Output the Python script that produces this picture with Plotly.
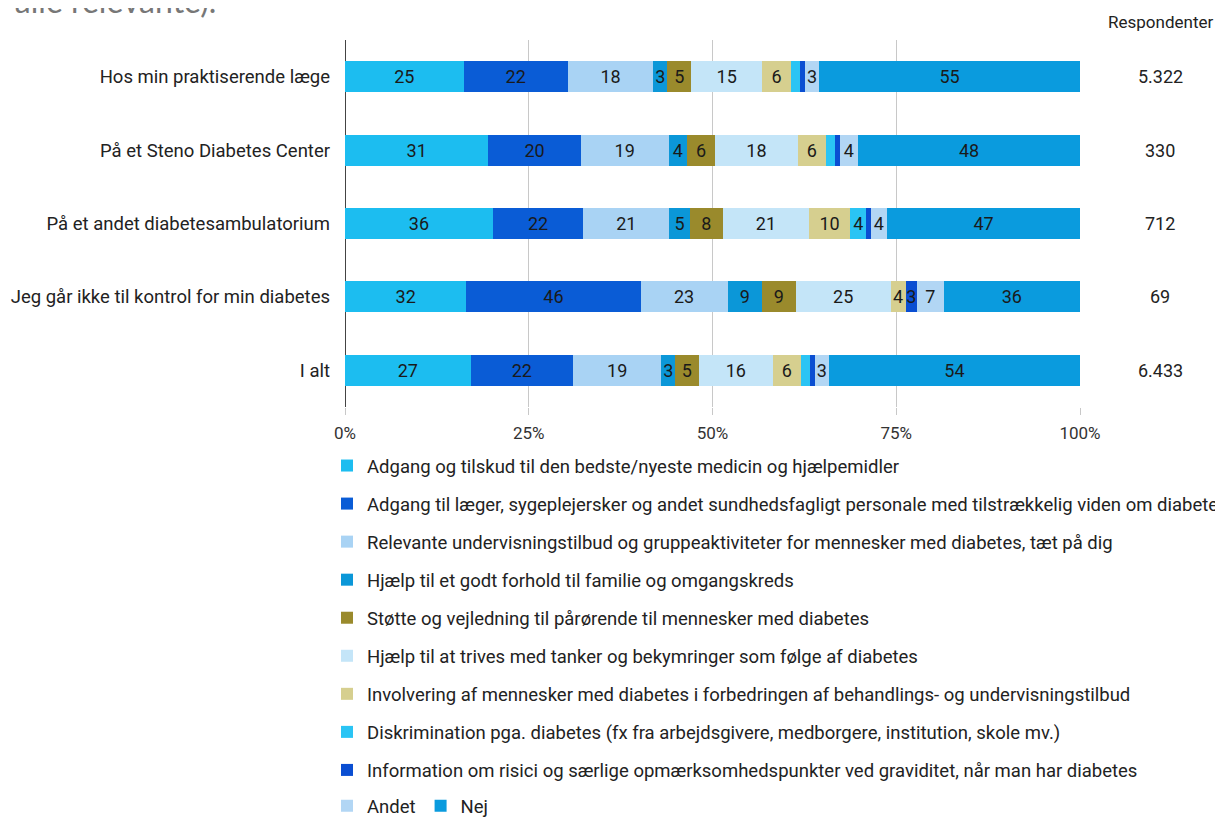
import plotly.graph_objects as go

categories = ["Hos min praktiserende læge", "På et Steno Diabetes Center",
              "På et andet diabetesambulatorium", "Jeg går ikke til kontrol for min diabetes", "I alt"]
respondents = ["5.322", "330", "712", "69", "6.433"]

series_names = [
    "Adgang og tilskud til den bedste/nyeste medicin og hjælpemidler",
    "Adgang til læger, sygeplejersker og andet sundhedsfagligt personale med tilstrækkelig viden om diabetes",
    "Relevante undervisningstilbud og gruppeaktiviteter for mennesker med diabetes, tæt på dig",
    "Hjælp til et godt forhold til familie og omgangskreds",
    "Støtte og vejledning til pårørende til mennesker med diabetes",
    "Hjælp til at trives med tanker og bekymringer som følge af diabetes",
    "Involvering af mennesker med diabetes i forbedringen af behandlings- og undervisningstilbud",
    "Diskrimination pga. diabetes (fx fra arbejdsgivere, medborgere, institution, skole mv.)",
    "Information om risici og særlige opmærksomhedspunkter ved graviditet, når man har diabetes",
    "Andet",
    "Nej",
]
medicin = [25, 31, 36, 32, 27]
laeger = [22, 20, 22, 46, 22]
undervisning = [18, 19, 21, 23, 19]
familie = [3, 4, 5, 9, 3]
paaroerende = [5, 6, 8, 9, 5]
trives = [15, 18, 21, 25, 16]
involvering = [6, 6, 10, 4, 6]
diskrimination = [2, 2, 4, 0, 2]
graviditet = [1, 1, 1, 3, 1]
andet = [3, 4, 4, 7, 3]
nej = [55, 48, 47, 36, 54]
series_values = [medicin, laeger, undervisning, familie, paaroerende, trives,
                 involvering, diskrimination, graviditet, andet, nej]
colors = ["#1CBDF0", "#0A5CD6", "#A9D3F4", "#0B97D8", "#9A8A2C", "#C4E5F8",
          "#D6CF8F", "#2AC4F4", "#0A4ED2", "#B2D6F4", "#0A9BDE"]

tick_vals = [0, 25, 50, 75, 100]
tick_text = ["0%", "25%", "50%", "75%", "100%"]

FONT = "Roboto"
fig = go.Figure()
for i, (name, vals, col) in enumerate(zip(series_names, series_values, colors)):
    fig.add_trace(go.Bar(
        y=categories, x=vals, name=name, orientation="h",
        marker=dict(color=col, line=dict(width=0)),
        text=[str(v) if v >= 3 else "" for v in vals],
        textposition="inside", insidetextanchor="middle", textangle=0,
        insidetextfont=dict(family=FONT, size=18, color="#1a1a1a"),
        legend="legend2" if i >= 9 else "legend",
        legendgroup=f"g{i}",
        hoverinfo="x+y+name",
    ))

fig.update_layout(
    width=1223, height=817,
    barmode="stack", barnorm="percent", bargap=0.58,
    paper_bgcolor="white", plot_bgcolor="white",
    margin=dict(l=337, r=151, t=32, b=418, autoexpand=False),
    font=dict(family=FONT, size=18, color="#222"),
    uniformtext=dict(mode="show", minsize=18),
    showlegend=True,
    legend=dict(orientation="v", x=-0.0245, xanchor="left", y=-0.109, yanchor="top",
                traceorder="grouped", tracegroupgap=11,
                font=dict(family=FONT, size=18.5, color="#222"),
                bgcolor="rgba(0,0,0,0)"),
    legend2=dict(orientation="h", x=-0.0245, xanchor="left", y=-1.036, yanchor="top",
                 font=dict(family=FONT, size=18.5, color="#222"),
                 bgcolor="rgba(0,0,0,0)"),
    xaxis=dict(range=[0, 100], tickvals=tick_vals, ticktext=tick_text,
               showgrid=True, gridcolor="#c8c8c8", gridwidth=1,
               zeroline=True, zerolinecolor="#444", zerolinewidth=1,
               ticks="outside", ticklen=7, tickcolor="#c8c8c8", ticklabelstandoff=4,
               tickfont=dict(family=FONT, size=17, color="#333")),
    yaxis=dict(autorange="reversed", ticklabelstandoff=14, ticks="",
               tickfont=dict(family=FONT, size=18.5, color="#222")),
)

fig.add_annotation(text="Respondenter", xref="paper", yref="paper", x=1.109, y=1.05,
                   showarrow=False, font=dict(family=FONT, size=17, color="#222"),
                   xanchor="center", yanchor="middle")
for cat, r in zip(categories, respondents):
    fig.add_annotation(text=r, xref="paper", yref="y", x=1.109, y=cat, showarrow=False,
                       font=dict(family=FONT, size=18, color="#222"),
                       xanchor="center", yanchor="middle")

fig.add_annotation(text="i alle relevante).", xref="paper", yref="paper", x=-0.474, y=1.049,
                   xanchor="left", yanchor="bottom", showarrow=False,
                   font=dict(family="Lato", size=32, color="#777"))

fig.write_html("out.html")
